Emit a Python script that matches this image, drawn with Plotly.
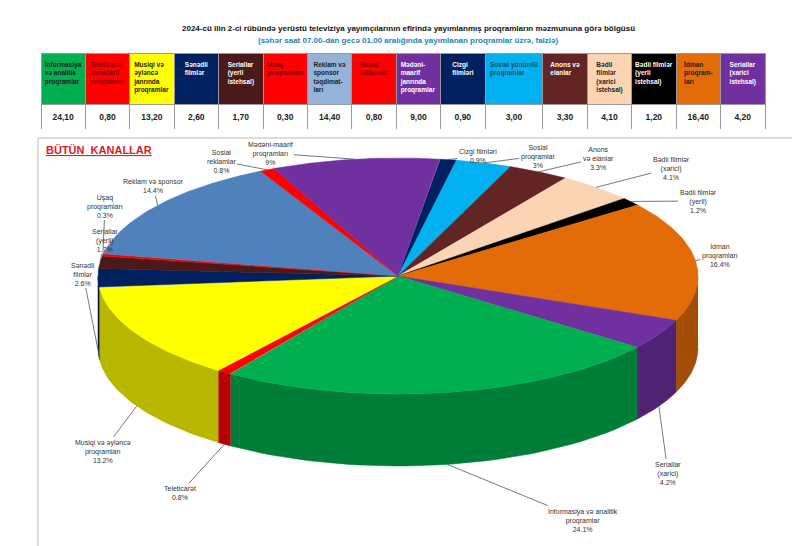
import numpy as np
import plotly.graph_objects as go

# table order
headers = ["İnformasiya<br>və analitik<br>proqramlar", "Teleticarət<br>xarakterli<br>proqramlar",
           "Musiqi və<br>əyləncə<br>janrında<br>proqramlar", "Sənədli<br>filmlər",
           "Seriallar<br>(yerli<br>istehsal)", "Uşaq<br>proqramları",
           "Reklam və<br>sponsor<br>təqdimat-<br>ları", "Sosial<br>reklamlar",
           "Mədəni-<br>maarif<br>janrında<br>proqramlar", "Cizgi<br>filmləri",
           "Sosial yönümlü<br>proqramlar", "Anons və<br>elanlar",
           "Bədii<br>filmlər<br>(xarici<br>istehsal)", "Bədii filmlər<br>(yerli<br>istehsal)",
           "İdman<br>proqram-<br>ları", "Seriallar<br>(xarici<br>istehsal)"]
values = [24.10, 0.80, 13.20, 2.60, 1.70, 0.30, 14.40, 0.80, 9.00, 0.90, 3.00, 3.30, 4.10, 1.20, 16.40, 4.20]
pie_labels = ["İnformasiya və analitik<br>proqramlar", "Teleticarət", "Musiqi və əyləncə<br>proqramları",
              "Sənədli<br>filmlər", "Seriallar<br>(yerli)", "Uşaq<br>proqramları", "Reklam və sponsor",
              "Sosial<br>reklamlar", "Mədəni-maarif<br>proqramları", "Cizgi filmləri",
              "Sosial<br>proqramlar", "Anons<br>və elanlar", "Bədii filmlər<br>(xarici)",
              "Bədii filmlər<br>(yerli)", "İdman<br>proqramları", "Seriallar<br>(xarici)"]
colors = ["#00B050", "#FF0000", "#FFFF00", "#002060", "#4A1A1A", "#FF0000", "#4F81BD", "#FF0000",
          "#7030A0", "#002060", "#00B0F0", "#632523", "#FBD4B4", "#000000", "#E36C09", "#7030A0"]
head_fill = colors[:6] + ["#95B3D7"] + colors[7:]
head_font = ["#222", "#8B0000", "#222", "white", "white", "#8B0000", "#222", "#8B0000",
             "white", "white", "#1F4E79", "white", "#222", "white", "#222", "white"]
# clockwise order of slices starting at 12 o'clock
pie_order = [9, 10, 11, 12, 13, 14, 15, 0, 1, 2, 3, 4, 5, 6, 7, 8]
# label placement (pixels), table order
label_pos = [(575, 512), (172, 485), (95, 443), (75, 266), (97, 232), (97, 198), (145, 178), (213, 153),
             (262, 145), (470, 148), (530, 148), (590, 150), (663, 160), (690, 193), (712, 247), (660, 465)]

cx, cy, rx, ry, depth = 390, 268, 300, 118, 72
start = np.radians(8)

def darker(h, f=0.72):
    h = h.lstrip("#")
    r, g, b = (int(h[i:i + 2], 16) for i in (0, 2, 4))
    return "rgb(%d,%d,%d)" % (r * f, g * f, b * f)

fig = go.Figure()
total = sum(values)
angles = []
a = start
for i in pie_order:
    da = 2 * np.pi * values[i] / total
    angles.append((i, a, a + da))
    a += da

def ex(t): return cx + rx * np.sin(t)
def ey(t): return cy - ry * np.cos(t)

# side walls (front half)
for i, a0, a1 in angles:
    lo = max(a0, np.pi / 2)
    hi = min(a1, 3 * np.pi / 2)
    if hi <= lo:
        continue
    t = np.linspace(lo, hi, 40)
    xs = np.concatenate([ex(t), ex(t[::-1])])
    ys = np.concatenate([ey(t), ey(t[::-1]) + depth])
    fig.add_trace(go.Scatter(x=xs, y=ys, fill="toself", mode="lines", line=dict(width=0.5, color=darker(colors[i])),
                             fillcolor=darker(colors[i]), hoverinfo="skip", showlegend=False))

# top faces
for i, a0, a1 in angles:
    t = np.linspace(a0, a1, 60)
    xs = np.concatenate([[cx], ex(t), [cx]])
    ys = np.concatenate([[cy], ey(t), [cy]])
    fig.add_trace(go.Scatter(x=xs, y=ys, fill="toself", mode="lines", line=dict(width=0.5, color=colors[i]),
                             fillcolor=colors[i], name=pie_labels[i].replace("<br>", " "), showlegend=False))

# labels
for i, a0, a1 in angles:
    tm = (a0 + a1) / 2
    front = np.cos(tm) < 0
    px_, py_ = ex(tm), ey(tm) + (depth if front else 0)
    lx, ly = label_pos[i]
    pct = ("%.1f" % values[i]).rstrip("0").rstrip(".")
    fig.add_annotation(x=px_, y=py_, ax=lx, ay=ly, axref="x", ayref="y", xref="x", yref="y",
                       text=pie_labels[i] + "<br>" + pct + "%", showarrow=True, arrowhead=0,
                       arrowwidth=0.8, arrowcolor="#555", font=dict(size=7, color="#333"))

fig.add_trace(go.Table(
    domain=dict(x=[33 / 800, 757 / 800], y=[1 - 122 / 546, 1 - 45 / 546]),
    columnwidth=[1.3 if "Sosial yönümlü" in h else 1 for h in headers],
    header=dict(values=["<b>%s</b>" % h for h in headers], fill_color=head_fill, height=51,
                font=dict(size=6.5, color=head_font, family="Arial"), line_color="#999", align="center"),
    cells=dict(values=[["<b>%s</b>" % ("%.2f" % v).replace(".", ",")] for v in values], fill_color="white",
               height=26, font=dict(size=8.5, color="#222", family="Arial"), line_color="#999", align="center")))

fig.add_shape(type="rect", x0=30, x1=790, y0=130, y1=540, xref="x", yref="y", line=dict(color="#bbb", width=1))
fig.add_annotation(x=36, y=142, xref="x", yref="y", xanchor="left", showarrow=False,
                   text="<b><u>BÜTÜN  KANALLAR</u></b>", font=dict(size=11, color="#E02020"))
fig.add_annotation(x=400, y=20, xref="x", yref="y", showarrow=False,
                   text="<b>2024-cü ilin 2-ci rübündə yerüstü televiziya yayımçılarının efirində yayımlanmış proqramların məzmununa görə bölgüsü</b>",
                   font=dict(size=8, color="#111"))
fig.add_annotation(x=400, y=32, xref="x", yref="y", showarrow=False,
                   text="<b>(səhər saat 07.00-dan gecə 01.00 aralığında yayımlanan proqramlar üzrə, faizlə)</b>",
                   font=dict(size=8, color="#1F7FC4"))

fig.update_xaxes(range=[0, 800], visible=False, fixedrange=True)
fig.update_yaxes(range=[546, 0], visible=False, fixedrange=True)
fig.update_layout(width=800, height=546, margin=dict(l=0, r=0, t=0, b=0), plot_bgcolor="white",
                  paper_bgcolor="white", font=dict(family="Arial"))
fig.write_html("out.html")
